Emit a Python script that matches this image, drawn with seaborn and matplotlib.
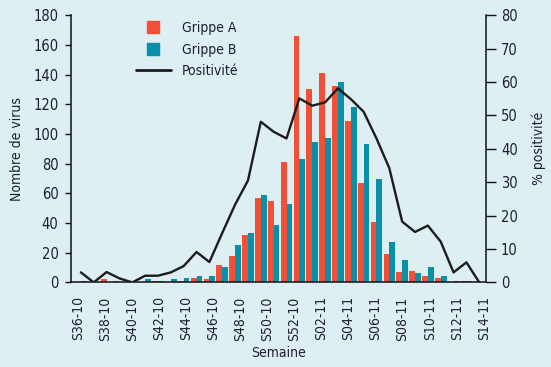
import numpy as np
import pandas as pd
import matplotlib
matplotlib.use("Agg")
import matplotlib.pyplot as plt
from matplotlib.lines import Line2D
import seaborn as sns

# ---- data ----
semaines = ([f"S{w}-10" for w in range(36, 53)] +
            [f"S{w:02d}-11" for w in range(1, 16)])
grippe_a = [0.3, 0.3, 2, 1, 0.3, 0.3, 1, 0.3, 1, 3, 2.5, 12, 18, 32, 57, 55,
            81, 166, 130, 141, 132, 109, 67, 41, 19, 7, 8, 4, 3, 0.5, 1, 0.5]
grippe_b = [1, 0, 0.3, 0.5, 0.3, 2.3, 1, 2.3, 3, 4.3, 4.3, 10.4, 25, 33.5, 59, 39,
            53, 83, 94.5, 97, 135, 118, 93, 69.5, 27.3, 15, 6.3, 10.4, 4.3, 0.9, 0.9, 0.3]
positivite = [3, 0, 3.1, 1.2, 0, 2, 2, 3, 4.9, 9.1, 6.1, 14.8, 23.3, 30.5, 48.1, 45.1,
              43.1, 55.1, 52.9, 53.9, 58.1, 54.9, 51.1, 43.1, 34.2, 18.2, 15.1, 17, 12.2, 3, 6, 0]
tick_labels = ["S36-10", "S38-10", "S40-10", "S42-10", "S44-10", "S46-10", "S48-10",
               "S50-10", "S52-10", "S02-11", "S04-11", "S06-11", "S08-11", "S10-11",
               "S12-11", "S14-11"]
left_ticks = list(range(0, 181, 20))
right_ticks = list(range(0, 81, 10))

# ---- style ----
BG = "#deeff4"
RED = "#f15036"
TEAL = "#0a8fa8"
TXT = "#1e1e30"

sns.set_style("white")
plt.rcParams["font.family"] = ["DejaVu Sans"]
plt.rcParams["font.stretch"] = "condensed"
plt.rcParams["text.color"] = TXT
plt.rcParams["axes.labelcolor"] = TXT
plt.rcParams["xtick.color"] = "#111111"
plt.rcParams["ytick.color"] = "#111111"

df = pd.DataFrame({"semaine": semaines * 2,
                   "n": grippe_a + grippe_b,
                   "type": ["Grippe A"] * len(semaines) + ["Grippe B"] * len(semaines)})

fig = plt.figure(figsize=(5.51, 3.67), dpi=100, facecolor=BG)
ax = fig.add_axes([71 / 551, 1 - 282.4 / 367, (485.7 - 71) / 551, (282.4 - 15.2) / 367])
ax.set_facecolor("none")

sns.barplot(data=df, x="semaine", y="n", hue="type", order=semaines,
            palette={"Grippe A": RED, "Grippe B": TEAL}, width=0.9,
            saturation=1, legend=False, ax=ax, linewidth=0)

ax2 = ax.twinx()
ax2.set_facecolor("none")
sns.lineplot(x=np.arange(len(semaines)), y=positivite, color="#1c1c1c",
             linewidth=1.7, ax=ax2)

n = len(semaines)
ax.set_xlim(-0.77, n - 0.5)
ax.set_ylim(0, 180)
ax2.set_ylim(0, 80)

# x ticks: boundaries every 2 weeks, labels spread evenly
ax.set_xticks(np.arange(-0.5, n, 2))
ax.set_xticklabels([])
ax.set_xticks(np.linspace(-0.25, 31.35, len(tick_labels)), minor=True)
ax.set_xticklabels(tick_labels, minor=True, rotation=90, fontsize=10, color=TXT)
ax.tick_params(axis="x", which="major", length=7, width=1, direction="out")
ax.tick_params(axis="x", which="minor", length=0, pad=10)

ax.set_yticks(left_ticks)
ax.set_yticklabels([str(t) for t in left_ticks], fontsize=10.5, color=TXT)
ax.tick_params(axis="y", length=4, width=1, pad=5, left=True)
ax2.set_yticks(right_ticks)
ax2.set_yticklabels([str(t) for t in right_ticks], fontsize=10.5, color=TXT)
ax2.tick_params(axis="y", length=7, width=1, pad=4, right=True)

for a in (ax, ax2):
    a.spines["top"].set_visible(False)
    for s in ("left", "right", "bottom"):
        a.spines[s].set_color("#111111")
        a.spines[s].set_linewidth(1.1)
ax.spines["right"].set_visible(False)
ax2.spines["left"].set_visible(False)
ax2.spines["bottom"].set_visible(False)

ax.set_xlabel("Semaine", fontsize=10, labelpad=4)
ax.set_ylabel("Nombre de virus", fontsize=10, labelpad=7)
ax2.set_ylabel("% positivité", fontsize=10, labelpad=10)

handles = [Line2D([], [], marker="s", color=RED, linestyle="none", markersize=8),
           Line2D([], [], marker="s", color=TEAL, linestyle="none", markersize=8),
           Line2D([], [], color="#1c1c1c", linewidth=2)]
fig.legend(handles, ["Grippe A", "Grippe B", "Positivité"], loc="upper left",
           bbox_to_anchor=(129 / 551, 1 - 14 / 367), frameon=False, fontsize=10,
           handlelength=2.5, handletextpad=0.8, labelspacing=0.55, borderpad=0)

fig.savefig("out.png", dpi=100, facecolor=BG)
